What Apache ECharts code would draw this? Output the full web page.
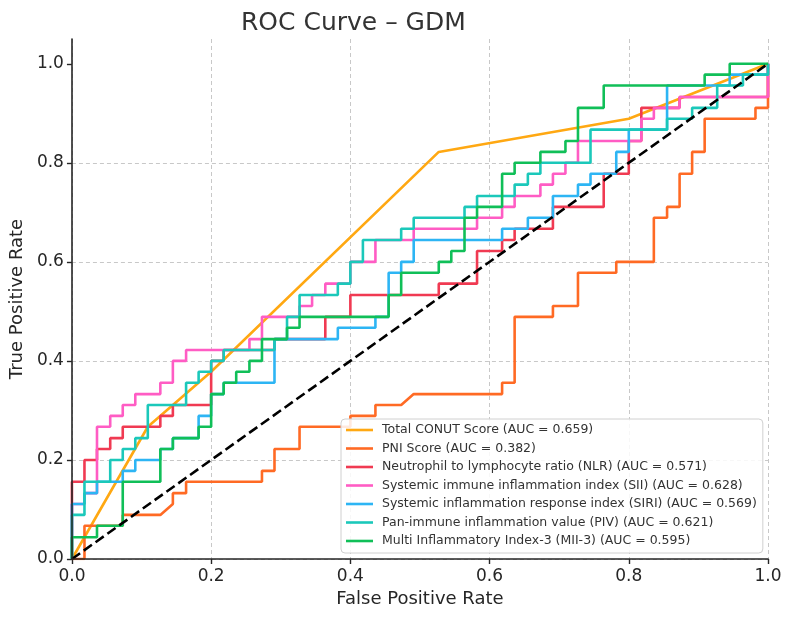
<!DOCTYPE html>
<html>
<head>
<meta charset="utf-8">
<script src="https://cdn.jsdelivr.net/npm/echarts@6/dist/echarts.min.js"></script>
<style>
html,body{margin:0;padding:0;background:#fff;}
#chart{width:794px;height:618px;}
</style>
</head>
<body>
<div id="chart"></div>
<script>
// ROC points [FPR, TPR]
const seriesNames = [
  'Total CONUT Score (AUC = 0.659)',
  'PNI Score (AUC = 0.382)',
  'Neutrophil to lymphocyte ratio (NLR) (AUC = 0.571)',
  'Systemic immune inflammation index (SII) (AUC = 0.628)',
  'Systemic inflammation response index (SIRI) (AUC = 0.569)',
  'Pan-immune inflammation value (PIV) (AUC = 0.621)',
  'Multi Inflammatory Index-3 (MII-3) (AUC = 0.595)'
];
const seriesColors = ['#FFA812','#FF6A24','#F03A52','#FF5CC4','#2DB5F4','#1BC8BA','#10BF58'];

const conut = [[0,0],[0.109,0.267],[0.2,0.378],[0.527,0.822],[0.8,0.889],[1,1]];

const pni = [[0,0],[0.018,0],[0.018,0.067],[0.073,0.067],[0.073,0.089],[0.127,0.089],[0.145,0.111],[0.145,0.133],[0.164,0.133],[0.164,0.156],[0.273,0.156],[0.273,0.178],[0.291,0.178],[0.291,0.222],[0.327,0.222],[0.327,0.267],[0.4,0.267],[0.4,0.289],[0.436,0.289],[0.436,0.311],[0.473,0.311],[0.491,0.333],[0.618,0.333],[0.618,0.356],[0.636,0.356],[0.636,0.489],[0.691,0.489],[0.691,0.511],[0.727,0.511],[0.727,0.578],[0.782,0.578],[0.782,0.6],[0.836,0.6],[0.836,0.689],[0.855,0.689],[0.855,0.711],[0.873,0.711],[0.873,0.778],[0.891,0.778],[0.891,0.822],[0.909,0.822],[0.909,0.889],[0.982,0.889],[0.982,0.911],[1,0.911],[1,1]];

const nlr = [[0,0],[0,0.156],[0.018,0.156],[0.018,0.2],[0.036,0.2],[0.036,0.222],[0.055,0.222],[0.055,0.244],[0.073,0.244],[0.073,0.267],[0.127,0.267],[0.127,0.289],[0.145,0.289],[0.145,0.311],[0.2,0.311],[0.2,0.4],[0.218,0.4],[0.218,0.422],[0.291,0.422],[0.291,0.444],[0.364,0.444],[0.364,0.489],[0.4,0.489],[0.4,0.533],[0.527,0.533],[0.527,0.556],[0.582,0.556],[0.582,0.622],[0.618,0.622],[0.618,0.644],[0.636,0.644],[0.636,0.667],[0.691,0.667],[0.691,0.711],[0.764,0.711],[0.764,0.778],[0.8,0.778],[0.8,0.844],[0.818,0.844],[0.818,0.911],[0.873,0.911],[0.873,0.933],[1,0.933],[1,1]];

const sii = [[0,0],[0,0.111],[0.018,0.111],[0.018,0.133],[0.036,0.133],[0.036,0.267],[0.055,0.267],[0.055,0.289],[0.073,0.289],[0.073,0.311],[0.091,0.311],[0.091,0.333],[0.127,0.333],[0.127,0.356],[0.145,0.356],[0.145,0.4],[0.164,0.4],[0.164,0.422],[0.255,0.422],[0.255,0.444],[0.273,0.444],[0.273,0.489],[0.327,0.489],[0.327,0.511],[0.345,0.511],[0.345,0.533],[0.364,0.533],[0.364,0.556],[0.4,0.556],[0.4,0.6],[0.436,0.6],[0.436,0.644],[0.491,0.644],[0.491,0.667],[0.582,0.667],[0.582,0.689],[0.618,0.689],[0.618,0.711],[0.636,0.711],[0.636,0.733],[0.673,0.733],[0.673,0.756],[0.691,0.756],[0.691,0.778],[0.709,0.778],[0.709,0.8],[0.727,0.8],[0.727,0.844],[0.818,0.844],[0.818,0.889],[0.836,0.889],[0.836,0.911],[0.873,0.911],[0.873,0.933],[1,0.933],[1,1]];

const siri = [[0,0],[0,0.111],[0.018,0.111],[0.018,0.133],[0.036,0.133],[0.036,0.156],[0.073,0.156],[0.073,0.178],[0.091,0.178],[0.091,0.2],[0.127,0.2],[0.127,0.222],[0.145,0.222],[0.145,0.244],[0.182,0.244],[0.182,0.289],[0.2,0.289],[0.2,0.333],[0.218,0.333],[0.218,0.356],[0.291,0.356],[0.291,0.444],[0.382,0.444],[0.382,0.467],[0.436,0.467],[0.436,0.489],[0.455,0.489],[0.455,0.578],[0.473,0.578],[0.473,0.6],[0.491,0.6],[0.491,0.644],[0.618,0.644],[0.618,0.667],[0.655,0.667],[0.655,0.689],[0.691,0.689],[0.691,0.733],[0.727,0.733],[0.727,0.756],[0.745,0.756],[0.745,0.778],[0.782,0.778],[0.782,0.822],[0.8,0.822],[0.8,0.867],[0.855,0.867],[0.855,0.956],[0.945,0.956],[0.945,0.978],[1,0.978],[1,1]];

const piv = [[0,0],[0,0.089],[0.018,0.089],[0.018,0.156],[0.055,0.156],[0.055,0.2],[0.073,0.2],[0.073,0.222],[0.091,0.222],[0.091,0.244],[0.109,0.244],[0.109,0.311],[0.164,0.311],[0.164,0.356],[0.182,0.356],[0.182,0.378],[0.2,0.378],[0.2,0.4],[0.218,0.4],[0.218,0.422],[0.291,0.422],[0.291,0.444],[0.309,0.444],[0.309,0.489],[0.327,0.489],[0.327,0.533],[0.382,0.533],[0.382,0.556],[0.4,0.556],[0.4,0.6],[0.418,0.6],[0.418,0.644],[0.473,0.644],[0.473,0.667],[0.491,0.667],[0.491,0.689],[0.564,0.689],[0.564,0.711],[0.582,0.711],[0.582,0.733],[0.636,0.733],[0.636,0.756],[0.655,0.756],[0.655,0.778],[0.673,0.778],[0.673,0.8],[0.745,0.8],[0.745,0.867],[0.855,0.867],[0.855,0.889],[0.891,0.889],[0.891,0.911],[0.927,0.911],[0.927,0.956],[0.964,0.956],[0.964,0.978],[1,0.978],[1,1]];

const mii3 = [[0,0],[0,0.044],[0.036,0.044],[0.036,0.067],[0.073,0.067],[0.073,0.156],[0.127,0.156],[0.127,0.222],[0.145,0.222],[0.145,0.244],[0.182,0.244],[0.182,0.267],[0.2,0.267],[0.2,0.333],[0.218,0.333],[0.218,0.356],[0.236,0.356],[0.236,0.378],[0.255,0.378],[0.255,0.4],[0.273,0.4],[0.273,0.444],[0.309,0.444],[0.309,0.467],[0.327,0.467],[0.327,0.489],[0.455,0.489],[0.455,0.533],[0.473,0.533],[0.473,0.578],[0.527,0.578],[0.527,0.6],[0.545,0.6],[0.545,0.622],[0.564,0.622],[0.564,0.689],[0.582,0.689],[0.582,0.711],[0.618,0.711],[0.618,0.778],[0.636,0.778],[0.636,0.8],[0.673,0.8],[0.673,0.822],[0.709,0.822],[0.709,0.844],[0.727,0.844],[0.727,0.911],[0.764,0.911],[0.764,0.956],[0.909,0.956],[0.909,0.978],[0.945,0.978],[0.945,1],[1,1]];

const chanceLine = [[0,0],[1,1]];
const tickValues = [0, 0.2, 0.4, 0.6, 0.8, 1.0];

const curves = [conut, pni, nlr, sii, siri, piv, mii3];
const FONT = 'DejaVu Sans';

const chart = echarts.init(document.getElementById('chart'), null, {renderer: 'canvas'});
const series = curves.map((d, k) => ({
  name: seriesNames[k],
  type: 'line',
  data: d,
  xAxisIndex: 0, yAxisIndex: 0,
  symbol: 'none',
  showSymbol: false,
  legendIcon: 'rect',
  lineStyle: {color: seriesColors[k], width: 2.6},
  itemStyle: {color: seriesColors[k]},
  emphasis: {disabled: true},
  animation: false,
  z: 2 + k * 0.01
}));
series.push({
  name: 'chance',
  type: 'line',
  data: chanceLine,
  xAxisIndex: 0, yAxisIndex: 0,
  symbol: 'none',
  lineStyle: {color: '#000', width: 2.6, type: [10, 4.5]},
  emphasis: {disabled: true},
  animation: false,
  z: 3
});

const gridStyle = {color: '#c8c8c8', type: [4, 3], width: 1};
const labelStyle = {fontFamily: FONT, fontSize: 17, color: '#262626', customValues: tickValues,
  formatter: v => v.toFixed(1)};
const tickStyle = {show: true, inside: false, length: 5, customValues: tickValues,
  lineStyle: {color: '#262626', width: 1.4}};
const nameStyle = {fontFamily: FONT, fontSize: 18, color: '#262626'};

chart.setOption({
  animation: false,
  backgroundColor: '#ffffff',
  title: {
    text: 'ROC Curve – GDM',
    left: 236, top: 6,
    textStyle: {fontFamily: FONT, fontSize: 25, fontWeight: 'normal', color: '#333333'}
  },
  grid: {left: 71, right: 26, top: 39, bottom: 59, containLabel: false},
  xAxis: [
    {
      type: 'value', min: 0, max: 1, interval: 0.2, position: 'bottom',
      name: 'False Positive Rate', nameLocation: 'middle', nameGap: 29, nameTextStyle: nameStyle,
      axisLine: {show: false},
      axisTick: tickStyle,
      axisLabel: Object.assign({}, labelStyle, {margin: 9}),
      splitLine: {show: true, lineStyle: gridStyle}
    },
    {
      type: 'value', min: 0, max: 1, position: 'bottom', z: 10,
      axisLine: {show: true, onZero: false, lineStyle: {color: '#262626', width: 1.6}},
      axisTick: {show: false}, axisLabel: {show: false}, splitLine: {show: false}
    }
  ],
  yAxis: [
    {
      type: 'value', min: 0, max: 1.05, interval: 0.2, position: 'left',
      name: 'True Positive Rate', nameLocation: 'middle', nameGap: 41, nameTextStyle: nameStyle,
      axisLine: {show: false},
      axisTick: tickStyle,
      axisLabel: Object.assign({}, labelStyle, {margin: 8}),
      splitLine: {show: true, showMaxLine: false, lineStyle: gridStyle}
    },
    {
      type: 'value', min: 0, max: 1.05, position: 'left', z: 10,
      axisLine: {show: true, onZero: false, lineStyle: {color: '#262626', width: 1.6}},
      axisTick: {show: false}, axisLabel: {show: false}, splitLine: {show: false}
    }
  ],
  legend: {
    data: seriesNames,
    orient: 'vertical',
    left: 341, top: 419,
    padding: [4, 6, 5, 5],
    icon: 'rect',
    itemWidth: 27, itemHeight: 2.6, itemGap: 4.5,
    backgroundColor: 'rgba(255,255,255,0.85)',
    borderColor: '#d0d0d0', borderWidth: 1, borderRadius: 4,
    textStyle: {fontFamily: FONT, fontSize: 12.5, color: '#333333', lineHeight: 14, padding: [0,0,0,4]},
    selectedMode: false,
    z: 12
  },
  series: series
});
</script>
</body>
</html>
